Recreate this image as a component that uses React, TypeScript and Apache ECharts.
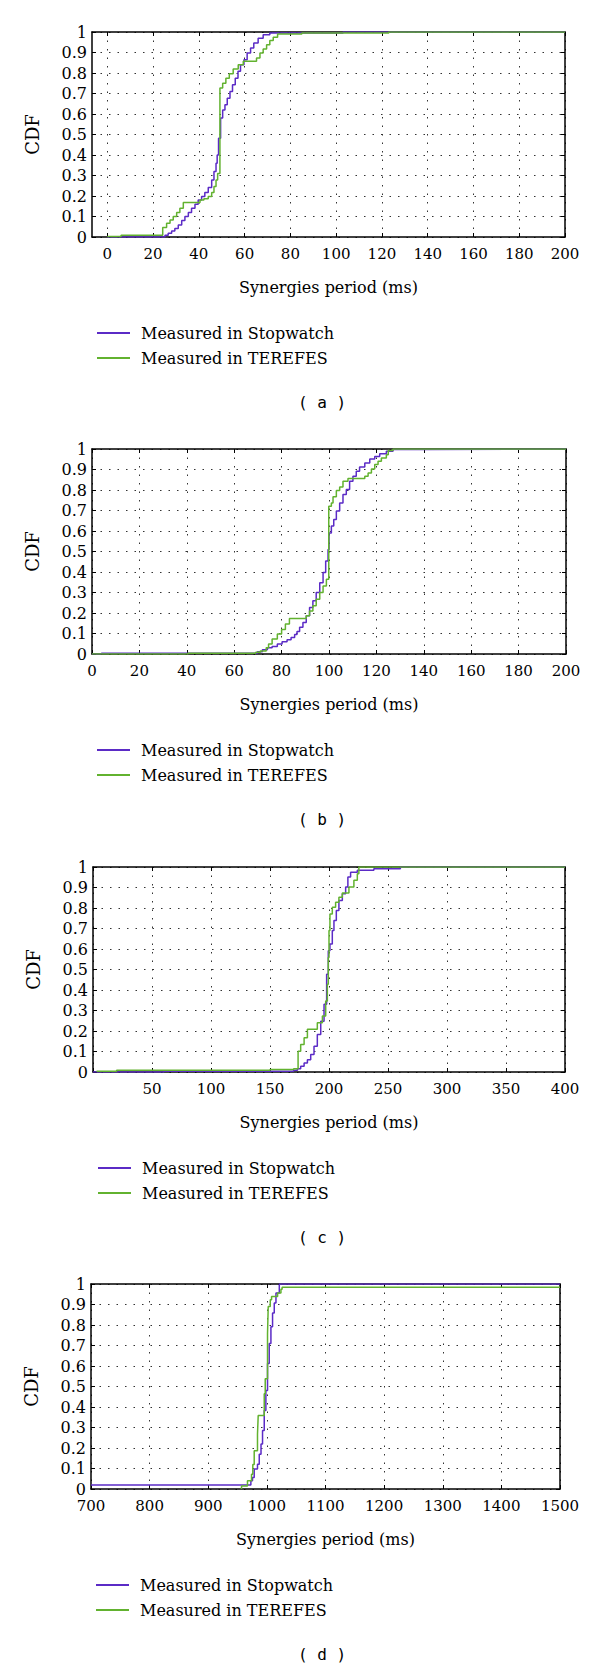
import React, { useEffect, useRef } from "react";
import * as echarts from "echarts";

const SERIES_NAMES = ["Measured in Stopwatch", "Measured in TEREFES"];
const PANEL_LABELS = ["( a )", "( b )", "( c )", "( d )"];
const X_TITLE = "Synergies period (ms)";
const Y_TITLE = "CDF";

const xTicksA = [0, 20, 40, 60, 80, 100, 120, 140, 160, 180, 200];
const xTicksB = [0, 20, 40, 60, 80, 100, 120, 140, 160, 180, 200];
const xTicksC = [0, 50, 100, 150, 200, 250, 300, 350, 400];
const xLabelsC = [50, 100, 150, 200, 250, 300, 350, 400];
const xTicksD = [700, 800, 900, 1000, 1100, 1200, 1300, 1400, 1500];

const stopA = [[0,0],[25.2,0.008],[26.6,0.018],[28.1,0.029],[29.5,0.042],[31,0.059],[32.5,0.08],[33.9,0.1],[35.4,0.12],[36.8,0.14],[38.3,0.16],[39.7,0.18],[41.2,0.197],[42.6,0.217],[44.1,0.241],[45.6,0.278],[46.6,0.319],[47.5,0.36],[48,0.4],[48.6,0.482],[49.5,0.58],[50.4,0.62],[51.4,0.645],[52.4,0.677],[53.6,0.71],[54.7,0.743],[55.9,0.775],[57.1,0.808],[58.2,0.84],[59.7,0.865],[61.1,0.897],[62.6,0.922],[64,0.946],[65.9,0.97],[68.1,0.987],[71,0.995],[103,1],[200,1]];
const terA = [[0,0.003],[6,0.008],[24.2,0.046],[25.9,0.067],[27.4,0.083],[28.8,0.1],[30.3,0.12],[31.7,0.14],[33.2,0.168],[40.5,0.18],[42.2,0.186],[44.1,0.197],[45.6,0.217],[46.6,0.246],[47.5,0.278],[48.2,0.31],[49.2,0.727],[50.4,0.75],[51.8,0.775],[53.3,0.796],[55,0.82],[57.2,0.84],[59.4,0.857],[65.2,0.873],[66.7,0.897],[68.1,0.917],[69.6,0.938],[71,0.959],[72.5,0.974],[74.4,0.99],[85,0.995],[123,1],[200,1]];

const stopB = [[0,0],[4,0.004],[69.8,0.011],[71.9,0.021],[74,0.031],[76,0.037],[78.2,0.049],[80.2,0.06],[82.3,0.07],[84,0.08],[85.5,0.095],[86.5,0.11],[87.6,0.13],[89,0.154],[90.4,0.186],[91.8,0.227],[93.2,0.26],[94.6,0.3],[96.1,0.348],[97.5,0.397],[98.6,0.454],[99.6,0.51],[100,0.59],[101,0.624],[102,0.656],[103.1,0.697],[104.5,0.737],[105.9,0.778],[107.3,0.802],[108.7,0.843],[110.1,0.867],[111.5,0.891],[112.9,0.912],[115.1,0.932],[117.2,0.951],[119.3,0.964],[121.4,0.977],[124.2,0.989],[127,0.997],[142,1],[200,1]];
const terB = [[0,0],[40.5,0.004],[69.1,0.008],[71,0.015],[73.5,0.03],[74.5,0.049],[76,0.073],[78.2,0.097],[80,0.12],[81.6,0.146],[83.3,0.173],[90.4,0.186],[91.8,0.21],[93.2,0.235],[94.6,0.267],[96.1,0.3],[97.5,0.332],[98.9,0.365],[99.9,0.721],[101,0.737],[101.7,0.767],[103.1,0.797],[104.5,0.815],[105.9,0.843],[108,0.856],[115.1,0.867],[116.5,0.883],[117.9,0.903],[119.3,0.924],[120.7,0.94],[122.1,0.956],[124.2,0.972],[125,0.993],[127,1],[200,1]];

const stopC = [[0,0],[60,0.004],[170,0.008],[173.3,0.016],[176,0.028],[178.9,0.044],[181.7,0.06],[184.5,0.085],[187.3,0.126],[190.1,0.183],[193,0.248],[195.8,0.33],[198,0.477],[199.4,0.592],[200.8,0.624],[202.8,0.69],[204.2,0.739],[206.2,0.788],[208.4,0.837],[211.3,0.869],[214.1,0.902],[216,0.951],[218.3,0.975],[224,0.984],[238,0.992],[260.5,1],[400,1]];
const terC = [[3,0.004],[20,0.008],[150,0.012],[170,0.016],[173.8,0.101],[176,0.134],[178.9,0.167],[181.7,0.208],[190.1,0.24],[194.4,0.273],[197.2,0.346],[198.6,0.428],[199.4,0.559],[200,0.69],[200.8,0.771],[202.8,0.804],[205.6,0.828],[208.4,0.853],[211.3,0.873],[216.9,0.902],[221.1,0.935],[224,0.967],[225.3,1],[400,1]];

const stopD = [[700,0.02],[972.7,0.04],[975.5,0.056],[978.4,0.097],[984,0.121],[987,0.17],[990,0.219],[992.6,0.285],[995.5,0.383],[998.3,0.481],[1001.1,0.612],[1004,0.71],[1006.9,0.792],[1009.7,0.858],[1012.6,0.907],[1015.5,0.956],[1021.2,1],[1500,1]];
const terD = [[956.7,0],[956.8,0.015],[966.9,0.04],[973.8,0.072],[976,0.12],[978.4,0.187],[984,0.268],[985.2,0.358],[995.5,0.465],[997.2,0.538],[1001.1,0.759],[1002.3,0.89],[1005.8,0.923],[1008,0.939],[1018.3,0.956],[1024,0.975],[1026,0.984],[1500,0.984]];

const PURPLE = "#5b2bc6";
const GREEN = "#62b22f";
const SERIF = "DejaVu Serif";

const panels = [
  { top: 32, left: 92, right: 35, min: -6.7, max: 200, ticks: xTicksA, labels: xTicksA, stop: stopA, ter: terA },
  { top: 449, left: 92, right: 34, min: 0, max: 200, ticks: xTicksB, labels: xTicksB, stop: stopB, ter: terB },
  { top: 867, left: 93, right: 35, min: 0, max: 400, ticks: xTicksC, labels: xLabelsC, stop: stopC, ter: terC },
  { top: 1284, left: 91, right: 40, min: 700, max: 1500, ticks: xTicksD, labels: xTicksD, stop: stopD, ter: terD },
];

const PLOT_H = 205;

export default function App() {
  const ref = useRef<HTMLDivElement>(null);
  useEffect(() => {
    if (!ref.current) return;
    const chart = echarts.init(ref.current, null, { renderer: "svg" });
    const axisLine = { show: true, onZero: false, lineStyle: { color: "#000", width: 1.5 } };
    const dotted = { show: true, lineStyle: { type: [1.5, 7], color: "#333", width: 1 } };
    const grid: any[] = [];
    const xBottom: any[] = [];
    const xTop: any[] = [];
    const yLeft: any[] = [];
    const yRight: any[] = [];
    const series: any[] = [];
    const legend: any[] = [];
    const graphic: any[] = [];
    panels.forEach((p, i) => {
      grid.push({ left: p.left, right: p.right, top: p.top, height: PLOT_H, show: false });
      xBottom.push({
        gridIndex: i, type: "value", min: p.min, max: p.max, position: "bottom",
        axisLine,
        axisTick: { show: true, inside: true, length: 4, customValues: p.ticks, lineStyle: { color: "#000" } },
        axisLabel: { customValues: p.labels, color: "#000", fontFamily: SERIF, fontSize: 15, margin: 9, formatter: (v: number) => String(v) },
        splitLine: dotted,
        name: X_TITLE, nameLocation: "middle", nameGap: 42,
        nameTextStyle: { color: "#000", fontFamily: SERIF, fontSize: 16 },
      });
      xTop.push({
        gridIndex: i, type: "value", min: p.min, max: p.max, position: "top",
        axisLine,
        axisTick: { show: true, inside: true, length: 4, customValues: p.ticks, lineStyle: { color: "#000" } },
        axisLabel: { show: false },
        splitLine: { show: false },
      });
      yLeft.push({
        gridIndex: i, type: "value", min: 0, max: 1, interval: 0.1, position: "left",
        axisLine,
        axisTick: { show: true, inside: true, length: 4, lineStyle: { color: "#000" } },
        axisLabel: { color: "#000", fontFamily: SERIF, fontSize: 16, margin: 5 },
        splitLine: dotted,
        name: Y_TITLE, nameLocation: "middle", nameGap: 51,
        nameTextStyle: { color: "#000", fontFamily: SERIF, fontSize: 18 },
      });
      yRight.push({
        gridIndex: i, type: "value", min: 0, max: 1, interval: 0.1, position: "right",
        axisLine,
        axisTick: { show: true, inside: true, length: 4, lineStyle: { color: "#000" } },
        axisLabel: { show: false },
        splitLine: { show: false },
      });
      series.push({
        name: SERIES_NAMES[0], type: "line", step: "end", symbol: "none",
        xAxisIndex: i, yAxisIndex: i, data: p.stop,
        lineStyle: { color: PURPLE, width: 1.5 }, itemStyle: { color: PURPLE },
      });
      series.push({
        name: SERIES_NAMES[1], type: "line", step: "end", symbol: "none",
        xAxisIndex: i, yAxisIndex: i, data: p.ter,
        lineStyle: { color: GREEN, width: 1.5 }, itemStyle: { color: GREEN },
      });
      legend.push({
        orient: "vertical", left: p.left, top: p.top + 288,
        icon: "rect", itemWidth: 33, itemHeight: 2, itemGap: 9,
        textStyle: { color: "#000", fontFamily: SERIF, fontSize: 16, padding: [0, 0, 0, 6] },
        data: SERIES_NAMES,
      });
      graphic.push({
        type: "text", x: 322, y: p.top + 370,
        style: { text: PANEL_LABELS[i], fontFamily: "DejaVu Sans Mono", fontSize: 16, fill: "#000", align: "center", verticalAlign: "middle" },
      });
    });
    chart.setOption({
      animation: false,
      backgroundColor: "#fff",
      grid,
      xAxis: [...xBottom, ...xTop],
      yAxis: [...yLeft, ...yRight],
      series,
      legend,
      graphic,
    });
    return () => chart.dispose();
  }, []);
  return <div ref={ref} style={{ position: "absolute", left: 0, top: 0, width: 600, height: 1669 }} />;
}
